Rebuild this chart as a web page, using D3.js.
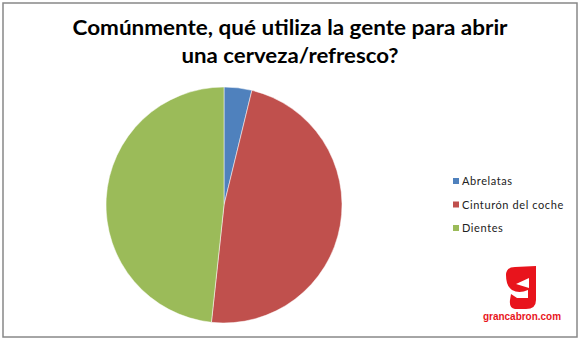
<!DOCTYPE html>
<html>
<head>
<meta charset="utf-8">
<script src="https://d3js.org/d3.v7.min.js"></script>
<style>
  body { margin: 0; background: #fff; }
  svg { display: block; }
</style>
</head>
<body>
<div id="chart"></div>
<script>
// data
categories = ['Abrelatas', 'Cinturón del coche', 'Dientes']
values = [3.8, 47.9, 48.3]
colors = ['#4F81BD', '#C0504D', '#9BBB59']
titleLines = ['Comúnmente, qué utiliza la gente para abrir', 'una cerveza/refresco?']

width = 581
height = 341

svg = d3.select('#chart')
  .append('svg')
  .attr('width', width)
  .attr('height', height)

// frame
svg.append('rect')
  .attr('x', 3).attr('y', 3)
  .attr('width', 574).attr('height', 334)
  .attr('fill', '#fff')
  .attr('stroke', '#888')
  .attr('stroke-width', 1.5)

// title
titleWidths = [435, 217]
svg.append('g')
  .selectAll('text')
  .data(titleLines)
  .join('text')
  .attr('x', 290)
  .attr('y', (d, i) => 35 + i * 28)
  .attr('text-anchor', 'middle')
  .attr('font-family', 'Lato, sans-serif')
  .attr('font-weight', 'bold')
  .attr('font-size', '20px')
  .attr('fill', '#000')
  .attr('textLength', (d, i) => titleWidths[i])
  .attr('lengthAdjust', 'spacingAndGlyphs')
  .text(d => d)

// pie
pie = d3.pie().sort(null).value(d => d)
arc = d3.arc().innerRadius(0).outerRadius(118)

svg.append('g')
  .attr('transform', 'translate(224 205)')
  .selectAll('path')
  .data(pie(values))
  .join('path')
  .attr('d', arc)
  .attr('fill', (d, i) => colors[i])
  .attr('stroke', '#fff')
  .attr('stroke-width', 0.5)

// legend
legend = svg.append('g')
  .selectAll('g')
  .data(categories)
  .join('g')
  .attr('transform', (d, i) => `translate(453 ${181 + i * 23.5})`)

legend.append('rect')
  .attr('x', 0).attr('y', -3)
  .attr('width', 6).attr('height', 6)
  .attr('fill', (d, i) => colors[i])

legend.append('text')
  .attr('x', 9)
  .attr('y', 4)
  .attr('font-family', 'Lato, sans-serif')
  .attr('font-size', '11px')
  .attr('letter-spacing', '0.6px')
  .attr('fill', '#222')
  .text(d => d)

// logo
logo = svg.append('g')
logo.append('path')
  .attr('d', 'M506,275 Q506,267 515,267 L536,266 L536,300 Q536,309 526,309 L515,309 Q509,308 510,300 L511,294 L517,298 L528,298 L528,290 Q519,294 512,290 Q506,286 506,275 Z')
  .attr('fill', '#e8141c')
logo.append('path')
  .attr('d', 'M529,278 L516,284 L529,288 Z')
  .attr('fill', '#fff')
logo.append('text')
  .attr('x', 522)
  .attr('y', 320)
  .attr('text-anchor', 'middle')
  .attr('font-family', 'Liberation Sans, Arial, sans-serif')
  .attr('font-weight', 'bold')
  .attr('font-size', '10px')
  .attr('fill', '#e8141c')
  .attr('textLength', 78)
  .attr('lengthAdjust', 'spacingAndGlyphs')
  .text('grancabron.com')
</script>
</body>
</html>
